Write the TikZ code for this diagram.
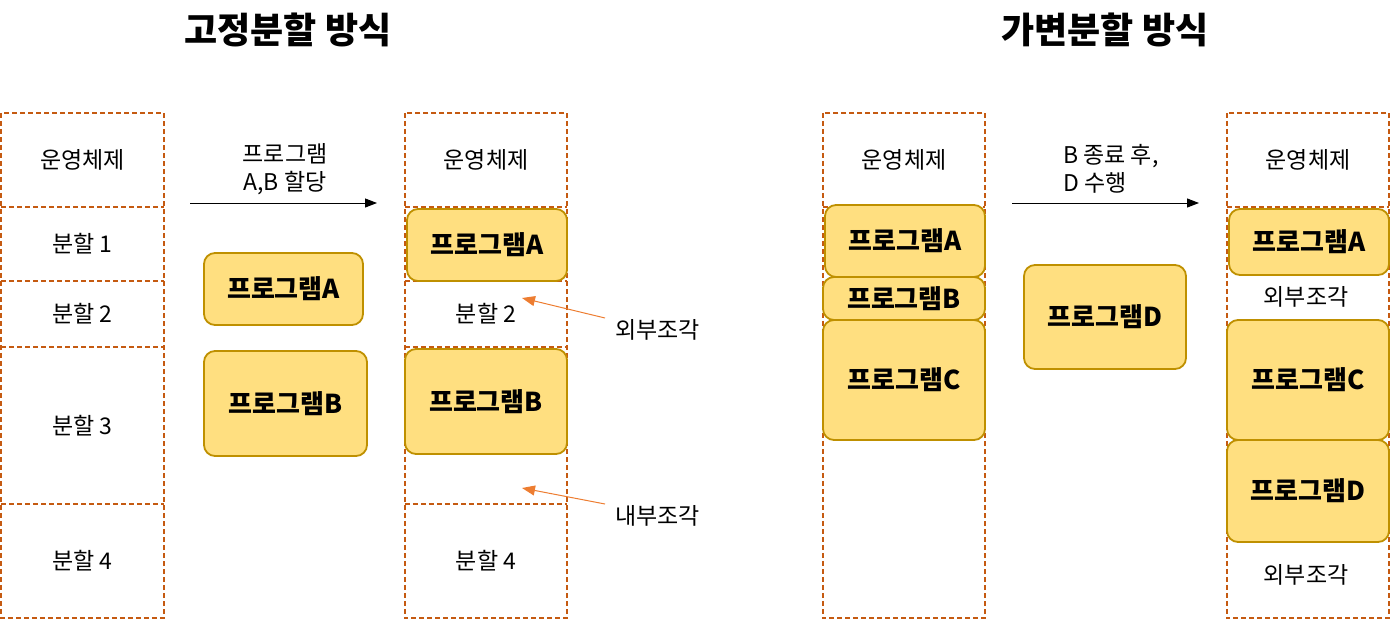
\documentclass[tikz,border=0pt]{standalone}
\usepackage{fontspec}
\setmainfont{Noto Sans CJK KR}
\usetikzlibrary{arrows.meta}

\definecolor{cellline}{HTML}{C55A11}
\definecolor{progfill}{HTML}{FFDF80}
\definecolor{progline}{HTML}{BF9000}
\definecolor{fragline}{HTML}{ED7D31}

\tikzset{
  cell/.style={minimum width=162pt, inner sep=0pt, font=\fontsize{23}{27}\selectfont},
  frame/.style={draw=cellline, line width=1.8pt, dash pattern=on 5pt off 3pt},
  prog/.style={draw=progline, fill=progfill, line width=1.8pt, rounded corners=11pt,
    inner sep=0pt, font=\fontsize{26}{30}\selectfont\bfseries},
  txt/.style={inner sep=0pt, font=\fontsize{23}{28}\selectfont},
  title/.style={inner sep=0pt, font=\fontsize{36}{42}\selectfont\bfseries},
  move/.style={-{Triangle[length=12pt,width=9pt]}, line width=1pt},
  frag/.style={fragline, line width=1pt, -{Triangle[length=13pt,width=10pt]}}
}

\begin{document}
\begin{tikzpicture}[x=1pt, y=-1pt]
  \useasboundingbox (0,0) rectangle (1391,619);

  % Titres
  \node[title] (fixtitle) at (288,30) {고정분할 방식};
  \node[title] (vartitle) at (1105,30) {가변분할 방식};

  % Colonne 1 : partitions fixes
  \foreach \name/\y/\h/\label in {os1/160/94/운영체제, part1/244/74/분할 1,
      part2/314/66/분할 2, part3/425.5/157/분할 3, part4/561/114/분할 4} {
    \node[cell, minimum height=\h pt] (\name) at (82.5,\y) {\label};
  }
  \draw[frame] (os1.north west) rectangle (part4.south east);
  \foreach \name in {part1, part2, part3, part4}
    \draw[frame] (\name.north west) -- (\name.north east);

  % Colonne 2 : après allocation
  \foreach \name/\y/\h/\label in {os2/160/94/운영체제, slotA/244/74/,
      slot2/314/66/분할 2, slotB/425.5/157/, slot4/561/114/분할 4} {
    \node[cell, minimum height=\h pt] (\name) at (486,\y) {\label};
  }
  \draw[frame] (os2.north west) rectangle (slot4.south east);
  \foreach \name in {slotA, slot2, slotB, slot4}
    \draw[frame] (\name.north west) -- (\name.north east);

  % Colonnes 3 et 4 : partitions variables
  \node[cell, minimum height=94pt] (os3) at (904,160) {운영체제};
  \node[cell, minimum height=411pt] (mem3) at (904,412.5) {};
  \draw[frame] (os3.north west) rectangle (mem3.south east);
  \draw[frame] (mem3.north west) -- (mem3.north east);
  \node[cell, minimum height=94pt] (os4) at (1308,160) {운영체제};
  \node[cell, minimum height=411pt] (mem4) at (1308,412.5) {};
  \draw[frame] (os4.north west) rectangle (mem4.south east);
  \draw[frame] (mem4.north west) -- (mem4.north east);

  % Programmes
  \node[prog, minimum width=159pt, minimum height=72pt] (progA1) at (283.5,289) {프로그램A};
  \node[prog, minimum width=163pt, minimum height=105pt] (progB1) at (285.5,403.5) {프로그램B};
  \node[prog, minimum width=160pt, minimum height=72pt] (progA2) at (487,245) {프로그램A};
  \node[prog, minimum width=162pt, minimum height=105pt] (progB2) at (486,401.5) {프로그램B};
  \node[prog, minimum width=160pt, minimum height=72pt] (progA3) at (905,241) {프로그램A};
  \node[prog, minimum width=162pt, minimum height=43pt] (progB3) at (904,298.5) {프로그램B};
  \node[prog, minimum width=162pt, minimum height=120pt] (progC3) at (904,380) {프로그램C};
  \node[prog, minimum width=162pt, minimum height=104pt] (progD) at (1105,317) {프로그램D};
  \node[prog, minimum width=160pt, minimum height=66pt] (progA4) at (1309,242) {프로그램A};
  \node[prog, minimum width=162pt, minimum height=120pt] (progC4) at (1308,380) {프로그램C};
  \node[prog, minimum width=162pt, minimum height=102pt] (progD4) at (1308,491) {프로그램D};

  % Flèches de transition
  \coordinate (allocFrom) at (190,203);
  \coordinate (allocTo) at (377,203);
  \draw[move] (allocFrom) -- (allocTo);
  \node[txt, align=center] (allocLabel) at (285,169) {프로그램\\A,B 할당};

  \coordinate (endFrom) at (1012,203);
  \coordinate (endTo) at (1199,203);
  \draw[move] (endFrom) -- (endTo);
  \node[txt, align=left, anchor=west] (endLabel) at (1063,169) {B 종료 후,\\D 수행};

  % Fragmentation
  \node[txt, anchor=west] (extFrag) at (615,330) {외부조각};
  \node[txt, anchor=west] (intFrag) at (615,516) {내부조각};
  \coordinate (extTip) at (522,298);
  \coordinate (intTip) at (522,488);
  \draw[frag] ([xshift=-10pt,yshift=12pt]extFrag.west) -- (extTip);
  \draw[frag] ([xshift=-10pt,yshift=12pt]intFrag.west) -- (intTip);

  \node[txt] (extFrag4a) at (1306,297) {외부조각};
  \node[txt] (extFrag4b) at (1306,575) {외부조각};

\end{tikzpicture}
\end{document}
